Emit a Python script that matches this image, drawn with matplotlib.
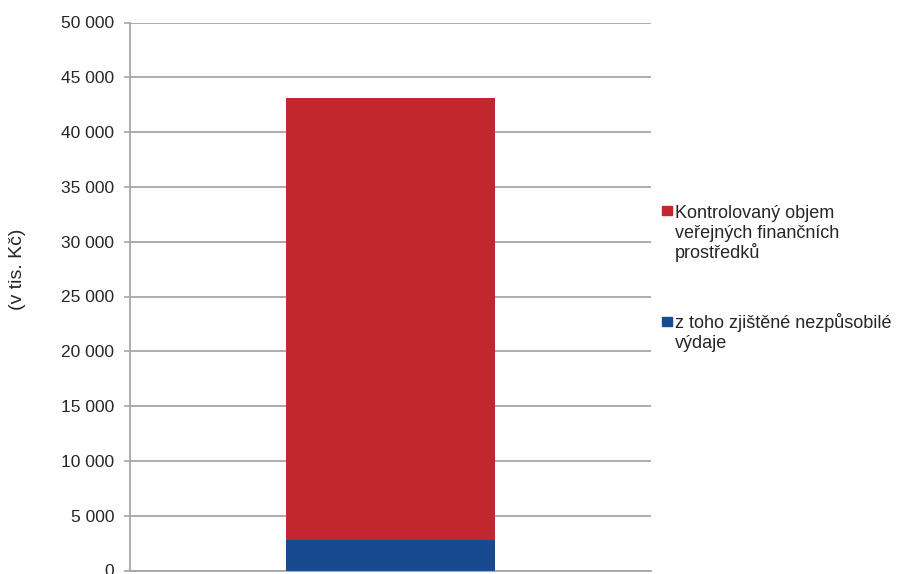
import matplotlib.pyplot as plt
from matplotlib.patches import Rectangle
from matplotlib.ticker import FuncFormatter

plt.rcParams['font.family'] = ['Liberation Sans', 'DejaVu Sans']

# data (v tis. Kč)
series_labels = ['Kontrolovaný objem\nveřejných finančních\nprostředků',
                 'z toho zjištěné nezpůsobilé\nvýdaje']
values = [43100, 2800]
colors = ['#C1272F', '#174A8F']
yticks = list(range(0, 50001, 5000))

W, H = 898, 574
fig = plt.figure(figsize=(W / 100, H / 100), dpi=100)
ax = fig.add_axes([130 / W, 1 - 570.5 / H, 521 / W, 548 / H])

# overlapped bars: total volume, and the part that was ineligible
for v, c in zip(values, colors):
    ax.bar(0, v, width=0.4, color=c, zorder=3)

ax.set_xlim(-0.5, 0.5)
ax.set_ylim(0, 50000)
ax.set_yticks(yticks)
ax.yaxis.set_major_formatter(FuncFormatter(lambda v, p: f'{int(v):,}'.replace(',', ' ')))
ax.set_xticks([])
ax.grid(axis='y', color='#A6A6A6', linewidth=1.3, zorder=0)
ax.tick_params(axis='y', length=4.5, width=1.2, color='#A6A6A6', pad=7,
               labelsize=12.5, labelcolor='#262626')
for s in ['top', 'right']:
    ax.spines[s].set_visible(False)
for s in ['left', 'bottom']:
    ax.spines[s].set_color('#A6A6A6')
    ax.spines[s].set_linewidth(1.3)

fig.text(17.5 / W, 1 - 269 / H, '(v tis. Kč)', rotation=90, ha='center', va='center',
         fontsize=14, color='#262626')

# legend drawn by hand, one line of text at a time
square_top = [206, 317]
first_base = [218, 328]
line_step = 20
for lab, c, sq, yb in zip(series_labels, colors, square_top, first_base):
    fig.patches.append(Rectangle((662 / W, 1 - (sq + 9) / H), 9.5 / W, 9 / H,
                                 transform=fig.transFigure, color=c))
    for i, line in enumerate(lab.split('\n')):
        fig.text(675 / W, 1 - (yb + i * line_step) / H, line, ha='left', va='baseline',
                 fontsize=13, color='#262626')

fig.savefig('out.png', dpi=100)
